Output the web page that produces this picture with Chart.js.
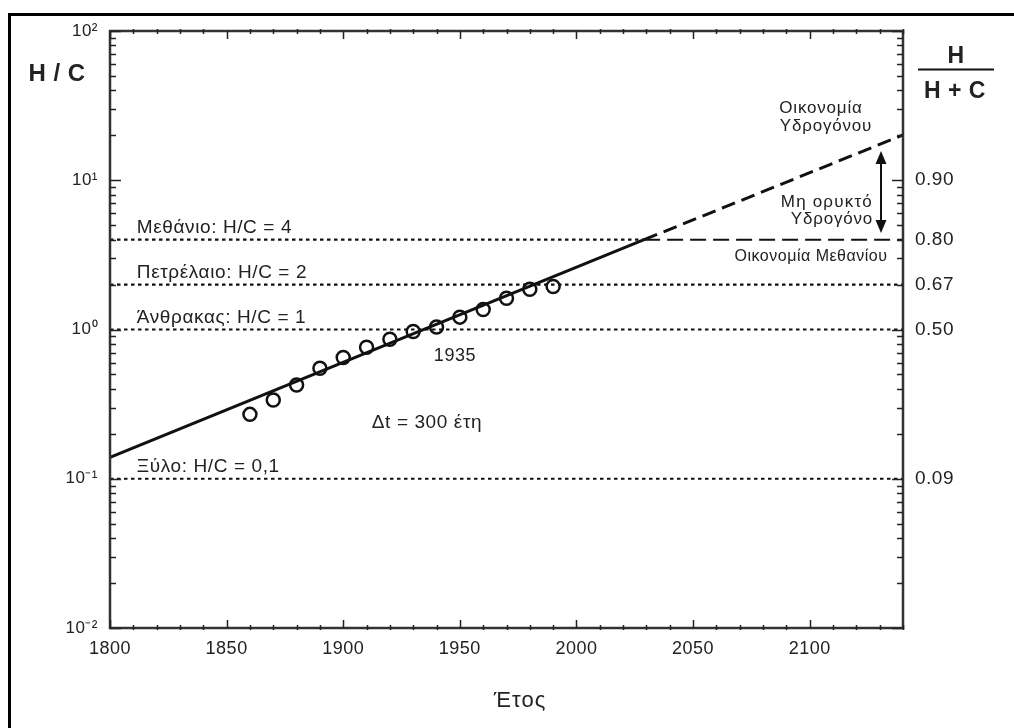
<!DOCTYPE html>
<html><head><meta charset="utf-8">
<script src="https://cdn.jsdelivr.net/npm/chart.js@4"></script>
<style>html,body{margin:0;padding:0;background:#fff}canvas{display:block}</style>
</head><body>
<canvas id="c" width="1014" height="728"></canvas>
<script>
// ---- data ----
const years = [1860,1870,1880,1890,1900,1910,1920,1930,1940,1950,1960,1970,1980,1990];
const hcRatio = [0.27,0.337,0.425,0.55,0.65,0.76,0.86,0.97,1.04,1.21,1.36,1.62,1.86,1.94];
const trendSolidYears = [1800, 2029];
const trendSolidValues = [0.139, 4];
const trendDashedYears = [2029, 2140];
const trendDashedValues = [4, 20.1];
const refLevels = [4, 2, 1, 0.1];
const refLabels = ['Μεθάνιο: H/C = 4','Πετρέλαιο: H/C = 2','Άνθρακας: H/C = 1','Ξύλο: H/C = 0,1'];
const methaneDashStart = 2029;
const xTickValues = [1800,1850,1900,1950,2000,2050,2100];
const leftTickValues = [100,10,1,0.1,0.01];
const leftTickLabels = ['10²','10¹','10⁰','10⁻¹','10⁻²'];
const rightTickValues = [10,4,2,1,0.1];
const rightTickLabels = ['0.90','0.80','0.67','0.50','0.09'];
const xMin = 1800, xMax = 2140, yMin = 0.01, yMax = 100;

const FONT = "'Liberation Sans', Arial, Helvetica, sans-serif";
const TXT = '#222';

const pts = (xs, ys) => xs.map((v, i) => ({x: v, y: ys[i]}));
const flat = (x0, x1, v) => [{x: x0, y: v}, {x: x1, y: v}];

const datasets = [
  {label:'H/C', data: pts(years, hcRatio), showLine:false, pointRadius:6.5, pointHoverRadius:6.5,
   pointBorderWidth:2.5, pointBackgroundColor:'rgba(0,0,0,0)', pointBorderColor:'#111', order:0},
  {label:'trend', data: pts(trendSolidYears, trendSolidValues), showLine:true, pointRadius:0,
   borderColor:'#111', borderWidth:3, order:1},
  {label:'trend future', data: pts(trendDashedYears, trendDashedValues), showLine:true, pointRadius:0,
   borderColor:'#111', borderWidth:3, borderDash:[14,7], order:1},
  {label:'CH4 dotted', data: flat(xMin, methaneDashStart, refLevels[0]), showLine:true, pointRadius:0,
   borderColor:'#111', borderWidth:2.2, borderDash:[3.5,3.5], order:2},
  {label:'CH4 dashed', data: flat(methaneDashStart, xMax, refLevels[0]), showLine:true, pointRadius:0,
   borderColor:'#111', borderWidth:2, borderDash:[16,7], order:2},
];
refLevels.slice(1).forEach(v => datasets.push({label:'ref '+v, data: flat(xMin, xMax, v), showLine:true,
  pointRadius:0, borderColor:'#111', borderWidth:2.2, borderDash:[3.5,3.5], order:2}));

const labelFromList = (vals, labs) => (value) => {
  const i = vals.findIndex(v => Math.abs(v - value) / v < 1e-6);
  return i >= 0 ? labs[i] : '';
};

const minorFactors = [2,3,4,5,6,7,8,9];
const decades = [0.01, 0.1, 1, 10];

const spacing = {
  id: 'spacing',
  beforeDraw(chart) { chart.ctx.letterSpacing = '0.5px'; }
};

const deco = {
  id: 'deco',
  afterDraw(chart) {
    const {ctx, chartArea: a, scales: {x, y}} = chart;
    ctx.save();
    // outer frame (left and top)
    ctx.strokeStyle = '#000'; ctx.lineWidth = 3;
    ctx.beginPath(); ctx.moveTo(9.5, 728); ctx.lineTo(9.5, 14.5); ctx.lineTo(1014, 14.5); ctx.stroke();
    // plot box
    ctx.strokeStyle = '#333'; ctx.lineWidth = 2.5;
    ctx.strokeRect(a.left, a.top, a.right - a.left, a.bottom - a.top);
    ctx.lineWidth = 1.5;
    // x ticks (top and bottom)
    ctx.beginPath();
    for (let yr = xMin; yr <= xMax; yr += 10) {
      const px = Math.round(x.getPixelForValue(yr)) + 0.5;
      const major = yr % 50 === 0;
      const l = major ? 8 : 3;
      ctx.moveTo(px, a.bottom + (major ? 0 : 2)); ctx.lineTo(px, a.bottom - l);
      ctx.moveTo(px, a.top - (major ? 0 : 2)); ctx.lineTo(px, a.top + l);
    }
    // y ticks (left and right)
    decades.forEach(d => {
      minorFactors.forEach(f => {
        const py = Math.round(y.getPixelForValue(d * f)) + 0.5;
        ctx.moveTo(a.left, py); ctx.lineTo(a.left + 6, py);
        ctx.moveTo(a.right, py); ctx.lineTo(a.right - 6, py);
      });
    });
    leftTickValues.forEach(v => {
      const py = Math.round(y.getPixelForValue(v)) + 0.5;
      ctx.moveTo(a.left, py); ctx.lineTo(a.left + 11, py);
      ctx.moveTo(a.right, py); ctx.lineTo(a.right - 11, py);
    });
    ctx.strokeStyle = '#222';
    ctx.stroke();

    // reference labels
    ctx.fillStyle = TXT;
    ctx.textBaseline = 'middle';
    ctx.textAlign = 'left';
    ctx.letterSpacing = '0.6px';
    ctx.font = `19px ${FONT}`;
    refLevels.forEach((v, i) => {
      ctx.fillText(refLabels[i], x.getPixelForValue(1811.5), y.getPixelForValue(v) - 12);
    });

    ctx.textAlign = 'center';
    ctx.font = `18px ${FONT}`;
    ctx.fillText('1935', 455, 356);
    ctx.font = `19px ${FONT}`;
    ctx.fillText('Δt = 300 έτη', 427, 423);

    // right annotations
    ctx.font = `17px ${FONT}`;
    ctx.letterSpacing = '0.8px';
    ctx.fillText('Οικονομία', 821, 108);
    ctx.fillText('Υδρογόνου', 826, 126);
    ctx.font = `16px ${FONT}`;
    ctx.letterSpacing = '0.5px';
    ctx.fillText('Οικονομία Μεθανίου', 811, 257);
    ctx.textAlign = 'right';
    ctx.font = `17px ${FONT}`;
    ctx.letterSpacing = '1.2px';
    ctx.fillText('Μη ορυκτό', 873, 202);
    ctx.letterSpacing = '0.8px';
    ctx.fillText('Υδρογόνο', 873, 219);

    // double arrow
    const ax = 881, ay1 = 151, ay2 = 233;
    ctx.strokeStyle = '#111'; ctx.lineWidth = 2;
    ctx.beginPath(); ctx.moveTo(ax, ay1 + 10); ctx.lineTo(ax, ay2 - 10); ctx.stroke();
    ctx.fillStyle = '#111';
    ctx.beginPath(); ctx.moveTo(ax, ay1); ctx.lineTo(ax - 5.5, ay1 + 13); ctx.lineTo(ax + 5.5, ay1 + 13); ctx.closePath(); ctx.fill();
    ctx.beginPath(); ctx.moveTo(ax, ay2); ctx.lineTo(ax - 5.5, ay2 - 13); ctx.lineTo(ax + 5.5, ay2 - 13); ctx.closePath(); ctx.fill();

    // axis titles
    ctx.fillStyle = TXT;
    ctx.textAlign = 'center';
    ctx.letterSpacing = '0.5px';
    ctx.font = `bold 24px ${FONT}`;
    ctx.fillText('H / C', 57, 74);
    ctx.font = `bold 23px ${FONT}`;
    ctx.fillText('H', 956, 57);
    ctx.fillText('H + C', 955, 92);
    ctx.strokeStyle = '#111'; ctx.lineWidth = 2;
    ctx.beginPath(); ctx.moveTo(918, 69.5); ctx.lineTo(994, 69.5); ctx.stroke();
    ctx.letterSpacing = '1px';
    ctx.font = `22px ${FONT}`;
    ctx.fillText('Έτος', 520, 701);
    ctx.restore();
  }
};

new Chart(document.getElementById('c'), {
  type: 'scatter',
  data: { datasets },
  options: {
    responsive: false,
    animation: false,
    events: [],
    layout: { padding: { top: 31, left: 0, right: 0, bottom: 0 } },
    plugins: { legend: { display: false }, tooltip: { enabled: false } },
    scales: {
      x: {
        type: 'linear', position: 'bottom', min: xMin, max: xMax,
        afterBuildTicks: s => { s.ticks = xTickValues.map(v => ({value: v})); },
        afterFit: s => { s.height = 100; },
        grid: { display: false, drawTicks: false }, border: { display: false },
        ticks: { padding: 10, autoSkip: false, maxRotation: 0, color: TXT,
                 font: { size: 18, family: FONT }, callback: v => String(v) }
      },
      y: {
        type: 'logarithmic', position: 'left', min: yMin, max: yMax,
        afterBuildTicks: s => { s.ticks = leftTickValues.map(v => ({value: v})); },
        afterFit: s => { s.width = 110; },
        grid: { display: false, drawTicks: false }, border: { display: false },
        ticks: { padding: 12, autoSkip: false, color: TXT, font: { size: 17, family: FONT },
                 callback: labelFromList(leftTickValues, leftTickLabels) }
      },
      y2: {
        type: 'logarithmic', position: 'right', min: yMin, max: yMax,
        afterBuildTicks: s => { s.ticks = rightTickValues.map(v => ({value: v})); },
        afterFit: s => { s.width = 111; },
        grid: { display: false, drawTicks: false }, border: { display: false },
        ticks: { padding: 12, autoSkip: false, color: TXT, font: { size: 19, family: FONT },
                 callback: labelFromList(rightTickValues, rightTickLabels) }
      }
    }
  },
  plugins: [spacing, deco]
});
</script>
</body></html>
